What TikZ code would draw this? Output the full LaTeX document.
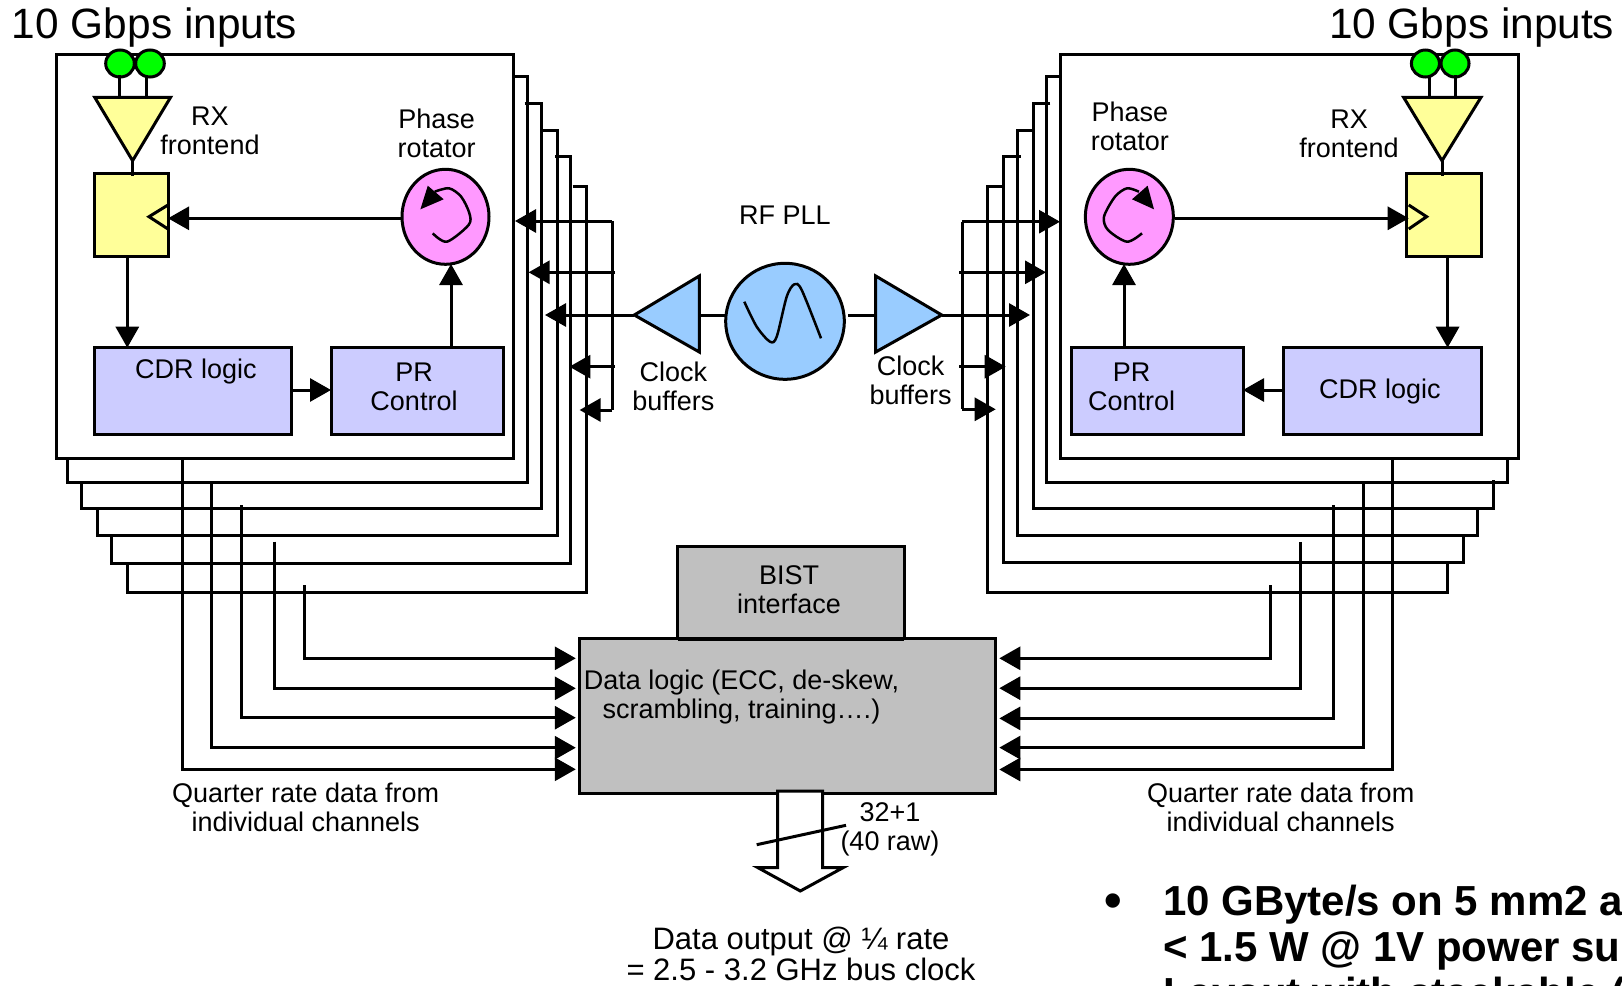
\documentclass[tikz,border=0pt]{standalone}
\usepackage{fontspec}
\setmainfont{Liberation Sans}
\usetikzlibrary{arrows.meta,shapes.geometric}
\definecolor{fy}{HTML}{FFFF99}
\definecolor{fl}{HTML}{CCCCFF}
\definecolor{fp}{HTML}{FF99FF}
\definecolor{fb}{HTML}{99CCFF}
\definecolor{fg}{HTML}{C0C0C0}
\definecolor{fgr}{HTML}{00FF00}
\tikzset{
  wire/.style={line width=3pt},
  arr/.style={wire,-{Triangle[length=21pt,width=23pt]}},
  box/.style={draw,line width=3pt,inner sep=0pt,outer sep=0pt},
  oval/.style={box,ellipse},
  lab/.style={inner sep=0pt,outer sep=0pt,align=center,font=\fontsize{27}{29}\selectfont},
  big/.style={inner sep=0pt,outer sep=0pt,font=\fontsize{42.4}{44}\selectfont},
  note/.style={inner sep=0pt,outer sep=0pt,align=center,font=\fontsize{31}{31}\selectfont},
  bold/.style={inner sep=0pt,outer sep=0pt,anchor=base west,font=\fontsize{42}{46}\bfseries\selectfont},
}
\begin{document}
\begin{tikzpicture}[x=1pt,y=-1pt,line join=miter]
\useasboundingbox (0,0) rectangle (1622,985);
\fill[white] (0,0) rectangle (1622,985);

% ---- stacked channels, left
\draw[wire] (572.6,186.3)--(586.7,186.3)--(586.7,592)--(127.6,592)--(127.6,563);
\draw[wire] (555,156.3)--(570.9,156.3)--(570.9,563)--(111.6,563)--(111.6,534);
\draw[wire] (542,130)--(557,130)--(557,535.7)--(97.8,535.7)--(97.8,508);
\draw[wire] (524.5,103)--(541,103)--(541,508.3)--(81.7,508.3)--(81.7,481);
\draw[wire] (511,76.3)--(527.4,76.3)--(527.4,482.3)--(67.9,482.3)--(67.9,455);
% ---- stacked channels, right
\draw[wire] (1002,186)--(987.8,186)--(987.8,592)--(1447.2,592)--(1447.2,564);
\draw[wire] (1020.6,156.5)--(1003.6,156.5)--(1003.6,562.4)--(1463.6,562.4)--(1463.6,534.5);
\draw[wire] (1032.5,130)--(1017.5,130)--(1017.5,535.6)--(1477,535.6)--(1477,509.5);
\draw[wire] (1050.4,103)--(1033.7,103)--(1033.7,508.8)--(1493,508.8)--(1493,480);
\draw[wire] (1064,76.3)--(1046.8,76.3)--(1046.8,482.4)--(1507,482.4)--(1507,454.6);

% ---- main channel boxes
\node[box,fill=white,minimum width=456.7pt,minimum height=403.7pt] (chanL) at (284.65,256.15) {};
\node[box,fill=white,minimum width=458pt,minimum height=403.7pt] (chanR) at (1289.7,256.15) {};

% ---- left channel
\node[oval,fill=fgr,minimum width=28.6pt,minimum height=27pt] (inLa) at (120,63.5) {};
\node[oval,fill=fgr,minimum width=28.6pt,minimum height=27pt] (inLb) at (150,63.5) {};
\coordinate (rxLa) at (119,97.3);
\coordinate (rxLb) at (146,97.3);
\coordinate (rxLtip) at (132.6,160.7);
\draw[wire] (119,75)--(rxLa);
\draw[wire] (146,75)--(rxLb);
\node[box,fill=fy,minimum width=73.3pt,minimum height=83.7pt] (ffL) at (131.35,214.85) {};
\draw[wire,fill=fy] (94.7,97.3)--(170.6,97.3)--(rxLtip)--cycle;
\draw[wire] (132.6,160.7)--(132.6,175.7);
\draw[wire] (168,205)--(149,216.7)--(168,229);
\node[oval,fill=fp,minimum width=87pt,minimum height=95pt] (rotL) at (445.5,216.8) {};
\node[box,fill=fl,minimum width=196.3pt,minimum height=86.6pt] (cdrL) at (192.85,391) {};
\node[box,fill=fl,minimum width=172pt,minimum height=86.6pt] (prL) at (417,391) {};
\coordinate (a1) at (402,218.3);
\coordinate (a2) at (168,218.3);
\draw[arr] (a1)--(a2);
\coordinate (a3) at (127.3,256.7);
\draw[arr] (a3)--(a3 |- cdrL.north);
\coordinate (a4) at (291,390);
\draw[arr] (a4)--(a4 -| prL.west);
\coordinate (a5) at (451,347.7);
\draw[arr] (a5)--(451,264);
\draw[line width=2.5pt] plot[smooth] coordinates {(434.7,191.7)(449,188.3)(461.2,196.7)(469.4,213.3)(468.6,225)(446.9,241.7)(432.7,233.3)};
\fill (427.8,185.7)--(420.4,209.3)--(443.7,199.3)--cycle;

% ---- right channel
\node[oval,fill=fgr,minimum width=28pt,minimum height=27pt] (inRa) at (1425.4,63.5) {};
\node[oval,fill=fgr,minimum width=28pt,minimum height=27pt] (inRb) at (1455,63.5) {};
\coordinate (rxRa) at (1429,97.3);
\coordinate (rxRb) at (1455.6,97.3);
\coordinate (rxRtip) at (1442,160.7);
\draw[wire] (1429,75)--(rxRa);
\draw[wire] (1455.6,75)--(rxRb);
\node[box,fill=fy,minimum width=74.3pt,minimum height=83.7pt] (ffR) at (1443.85,214.85) {};
\draw[wire,fill=fy] (1403.6,97.3)--(1481,97.3)--(rxRtip)--cycle;
\draw[wire] (1442,160.7)--(1442,175.7);
\draw[wire] (1408.7,205)--(1426.6,216.7)--(1408.7,229);
\node[oval,fill=fp,minimum width=88pt,minimum height=95pt] (rotR) at (1129.35,216.8) {};
\node[box,fill=fl,minimum width=197.3pt,minimum height=86.6pt] (cdrR) at (1382.35,391) {};
\node[box,fill=fl,minimum width=171.6pt,minimum height=86.6pt] (prR) at (1157.2,391) {};
\coordinate (b1) at (1174.6,218.3);
\coordinate (b2) at (1408.7,218.3);
\draw[arr] (b1)--(b2);
\coordinate (b3) at (1447.6,256.7);
\draw[arr] (b3)--(b3 |- cdrR.north);
\coordinate (b4) at (1283.7,390);
\draw[arr] (b4)--(b4 -| prR.east);
\coordinate (b5) at (1124,347.7);
\draw[arr] (b5)--(1124,264);
\draw[line width=2.5pt] plot[smooth] coordinates {(1138.9,191.7)(1127,188.3)(1115,196.7)(1104,216.7)(1108,230)(1127,241.7)(1142,233.3)};
\fill (1147.6,185.7)--(1154,209.3)--(1132,199.3)--cycle;

% ---- PLL and clock buffers
\node[oval,fill=fb,minimum width=118.6pt,minimum height=116pt] (pll) at (785,321.3) {};
\draw[line width=2.5pt] plot[smooth] coordinates {(744.3,301.7)(756.7,326.7)(770,341.7)(776.7,336.7)(786.7,296.7)(794.3,284.3)(801.7,290)(821,338.3)};
\coordinate (bufLtip) at (634.3,315);
\coordinate (bufLb) at (699.3,315);
\coordinate (bufRa) at (875.7,315);
\coordinate (bufRtip) at (941.7,315);
\draw[wire] (bufLb)--(725.5,315);
\draw[wire] (848.3,315)--(bufRa);
\draw[wire,fill=fb] (bufLtip)--(699.3,276)--(699.3,352)--cycle;
\draw[wire,fill=fb] (bufRtip)--(875.7,276)--(875.7,352)--cycle;

% clock distribution, left
\coordinate (cL1) at (515,221);
\coordinate (cL2) at (528.6,272.3);
\coordinate (cL3) at (545,315);
\coordinate (cL4) at (569.4,366.7);
\coordinate (cL5) at (579.6,410);
\draw[arr] (612.2,221)--(cL1);
\draw[wire] (612.2,221)--(612.2,410);
\draw[arr] (612.2,410)--(cL5);
\draw[arr] (615,272.3)--(cL2);
\draw[arr] (bufLtip)--(cL3);
\draw[arr] (615,366.7)--(cL4);
% clock distribution, right
\coordinate (cR1) at (1060,221.7);
\coordinate (cR2) at (1046,272.3);
\coordinate (cR3) at (1030,315);
\coordinate (cR4) at (1005.7,366.7);
\coordinate (cR5) at (995.7,409.3);
\draw[arr] (962.3,221.7)--(cR1);
\draw[wire] (962.3,221.7)--(962.3,409.3);
\draw[arr] (962.3,409.3)--(cR5);
\draw[arr] (959.3,272.3)--(cR2);
\draw[arr] (bufRtip)--(cR3);
\draw[arr] (959.3,366.7)--(cR4);

% ---- data logic
\node[box,fill=fg,minimum width=226.3pt,minimum height=93pt] (bist) at (790.85,592.5) {};
\node[box,fill=fg,minimum width=416.7pt,minimum height=155pt] (dl) at (787.35,715.8) {};
\draw[box] (bist.south west)--(bist.south east);

% data wires, left
\coordinate (dA1) at (182,458);   \coordinate (eA1) at (575.8,769.3);
\coordinate (dA2) at (211.8,481.7); \coordinate (eA2) at (575.8,747.7);
\coordinate (dA3) at (241.7,505); \coordinate (eA3) at (575.8,717.7);
\coordinate (dA4) at (274.2,541.7); \coordinate (eA4) at (575.8,688.3);
\coordinate (dA5) at (304.4,585); \coordinate (eA5) at (575.8,658.3);
\draw[arr] (dA1)|-(eA1);
\draw[arr] (dA2)|-(eA2);
\draw[arr] (dA3)|-(eA3);
\draw[arr] (dA4)|-(eA4);
\draw[arr] (dA5)|-(eA5);
% data wires, right
\coordinate (dB1) at (1392.7,458);  \coordinate (eB1) at (999.3,769.5);
\coordinate (dB2) at (1363.2,481.7); \coordinate (eB2) at (999.3,747.6);
\coordinate (dB3) at (1333.3,505.3); \coordinate (eB3) at (999.3,718.4);
\coordinate (dB4) at (1300.5,541.8); \coordinate (eB4) at (999.3,688.2);
\coordinate (dB5) at (1270.6,585.3); \coordinate (eB5) at (999.3,658.3);
\draw[arr] (dB1)|-(eB1);
\draw[arr] (dB2)|-(eB2);
\draw[arr] (dB3)|-(eB3);
\draw[arr] (dB4)|-(eB4);
\draw[arr] (dB5)|-(eB5);

% output arrow
\draw[wire,fill=white] (777.7,791)--(777.7,867.7)--(758,867.7)--(800.3,891)--(843,867.7)--(822.7,867.7)--(822.7,791)--cycle;
\draw[wire] (756.7,844.7)--(846,825.3);

% ---- labels
\node[big,anchor=base west] (tL) at (12,38) {10 Gbps inputs};
\node[big,anchor=base west] (tR) at (1329,38) {10 Gbps inputs};
\node[lab] (t1) at (210,131) {RX\\frontend};
\node[lab] (t2) at (436.7,133) {Phase\\rotator};
\node[lab] (t3) at (196,372) {CDR logic};
\node[lab] (t4) at (414,387) {PR\\Control};
\node[lab] (t5) at (1129.8,126) {Phase\\rotator};
\node[lab] (t6) at (1349,134) {RX\\frontend};
\node[lab] (t7) at (1131.7,387) {PR\\Control};
\node[lab] (t8) at (1379.8,392) {CDR logic};
\node[lab] (t9) at (785,215) {RF PLL};
\node[lab] (t10) at (673.3,386) {Clock\\buffers};
\node[lab] (t11) at (910.7,380) {Clock\\buffers};
\node[lab] (t12) at (789,590) {BIST\\interface};
\node[lab] (t13) at (741.5,697) {Data logic (ECC, de-skew,\\scrambling, training….)};
\node[lab] (t14) at (305.6,807.5) {Quarter rate data from\\individual channels};
\node[lab] (t15) at (1280.7,807.5) {Quarter rate data from\\individual channels};
\node[lab] (t16) at (890,829.5) {32+1\\(40 raw)};
\node[note] (t17) at (801,953.5) {Data output @ ¼ rate\\= 2.5 - 3.2 GHz bus clock};

\begin{scope}
\clip (1090,860) rectangle (1622,985);
\node[inner sep=0pt,font=\fontsize{50}{50}\bfseries\selectfont] (bul) at (1113,906) {•};
\node[bold] (l1) at (1163,915.7) {10 GByte/s on 5 mm2 a};
\node[bold] (l2) at (1163,961.7) {< 1.5 W @ 1V power su};
\node[bold] (l3) at (1163,1007.7) {Layout with stackable (};
\end{scope}
\end{tikzpicture}
\end{document}
